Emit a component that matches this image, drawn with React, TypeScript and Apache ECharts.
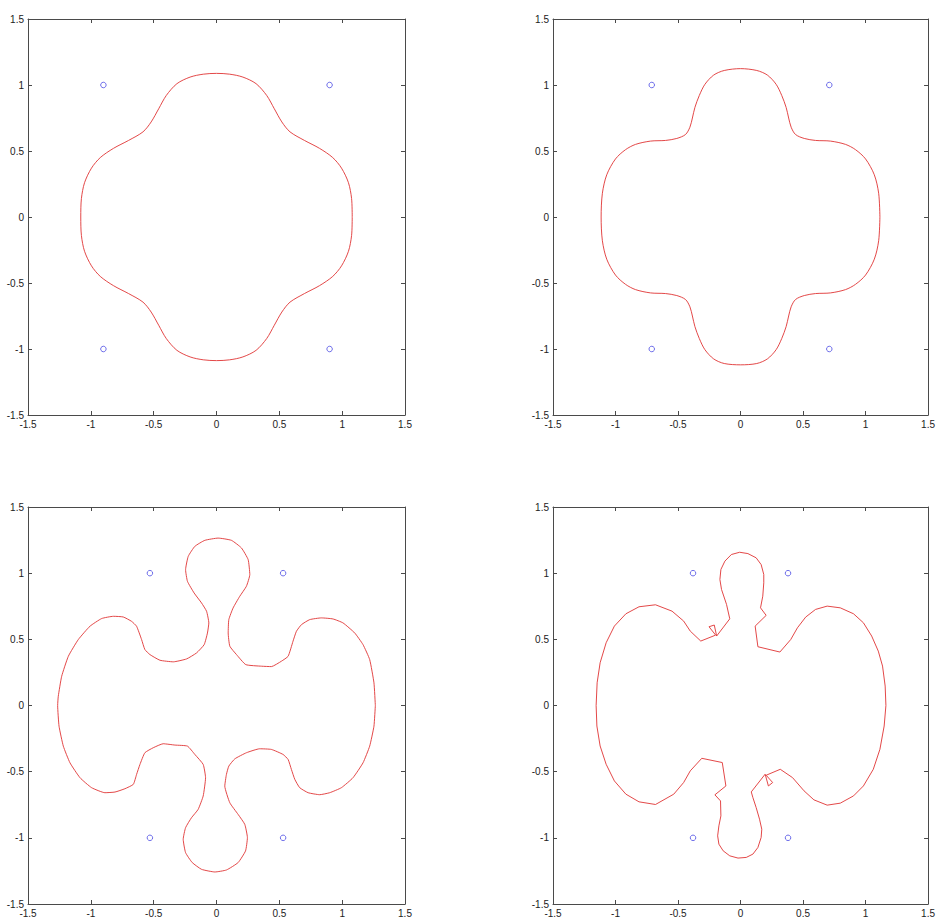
import React, { useEffect, useRef } from "react";
import * as echarts from "echarts";

// Charge sites (blue circles) for each of the four configurations
const sitesA = [[-0.9, 1], [0.9, 1], [-0.9, -1], [0.9, -1]];
const sitesB = [[-0.71, 1], [0.71, 1], [-0.71, -1], [0.71, -1]];
const sitesC = [[-0.53, 1], [0.53, 1], [-0.53, -1], [0.53, -1]];
const sitesD = [[-0.38, 1], [0.38, 1], [-0.38, -1], [0.38, -1]];

// Level curves (red), traced counter-clockwise from the right-most point
const curveA = [
  [1.08, 0], [1.075, 0.14], [1.05, 0.26], [0.995, 0.37], [0.925, 0.45], [0.82, 0.52], [0.7, 0.58],
  [0.585, 0.645], [0.52, 0.72], [0.46, 0.82], [0.4, 0.92], [0.315, 1.01], [0.21, 1.06], [0.105, 1.082],
  [0, 1.088], [-0.105, 1.082], [-0.21, 1.06], [-0.315, 1.01], [-0.4, 0.92], [-0.46, 0.82], [-0.52, 0.72],
  [-0.585, 0.645], [-0.7, 0.58], [-0.82, 0.52], [-0.925, 0.45], [-0.995, 0.37], [-1.05, 0.26],
  [-1.075, 0.14], [-1.08, 0], [-1.075, -0.14], [-1.05, -0.26], [-0.995, -0.37], [-0.925, -0.45],
  [-0.82, -0.52], [-0.7, -0.58], [-0.585, -0.645], [-0.52, -0.72], [-0.46, -0.82], [-0.4, -0.92],
  [-0.315, -1.01], [-0.21, -1.06], [-0.105, -1.082], [0, -1.088], [0.105, -1.082], [0.21, -1.06],
  [0.315, -1.01], [0.4, -0.92], [0.46, -0.82], [0.52, -0.72], [0.585, -0.645], [0.7, -0.58],
  [0.82, -0.52], [0.925, -0.45], [0.995, -0.37], [1.05, -0.26], [1.075, -0.14],
];

const curveB = [
  [1.115, 0], [1.105, 0.18], [1.07, 0.32], [1.0, 0.44], [0.92, 0.51], [0.84, 0.55], [0.72, 0.575],
  [0.6, 0.58], [0.51, 0.595], [0.44, 0.625], [0.405, 0.68], [0.385, 0.75], [0.365, 0.83], [0.33, 0.92],
  [0.285, 1.005], [0.215, 1.075], [0.13, 1.11], [0, 1.124], [-0.13, 1.11], [-0.215, 1.075],
  [-0.285, 1.005], [-0.33, 0.92], [-0.365, 0.83], [-0.385, 0.75], [-0.405, 0.68], [-0.44, 0.625],
  [-0.51, 0.595], [-0.6, 0.58], [-0.72, 0.575], [-0.84, 0.55], [-0.92, 0.51], [-1.0, 0.44],
  [-1.07, 0.32], [-1.105, 0.18], [-1.115, 0], [-1.105, -0.18], [-1.07, -0.32], [-1.0, -0.44],
  [-0.92, -0.51], [-0.84, -0.55], [-0.72, -0.575], [-0.6, -0.58], [-0.51, -0.595], [-0.44, -0.625],
  [-0.405, -0.68], [-0.385, -0.75], [-0.365, -0.83], [-0.33, -0.92], [-0.285, -1.005],
  [-0.215, -1.075], [-0.13, -1.11], [0, -1.12], [0.13, -1.11], [0.215, -1.075], [0.285, -1.005],
  [0.33, -0.92], [0.365, -0.83], [0.385, -0.75], [0.405, -0.68], [0.44, -0.625], [0.51, -0.595],
  [0.6, -0.58], [0.72, -0.575], [0.84, -0.55], [0.92, -0.51], [1.0, -0.44], [1.07, -0.32],
  [1.105, -0.18],
];

const curveC = [
  [1.264, 0], [1.253, 0.171], [1.219, 0.347], [1.166, 0.46], [1.1, 0.548], [1.007, 0.624],
  [0.927, 0.654], [0.835, 0.662], [0.742, 0.649], [0.676, 0.611], [0.636, 0.561], [0.609, 0.486],
  [0.57, 0.372], [0.517, 0.335], [0.437, 0.294], [0.358, 0.297], [0.233, 0.309], [0.159, 0.385],
  [0.106, 0.448], [0.093, 0.548], [0.098, 0.649], [0.132, 0.737], [0.185, 0.825], [0.238, 0.901],
  [0.265, 0.989], [0.252, 1.102], [0.199, 1.19], [0.119, 1.248], [0.013, 1.265], [-0.093, 1.248],
  [-0.172, 1.203], [-0.225, 1.127], [-0.246, 1.026], [-0.231, 0.938], [-0.178, 0.85],
  [-0.119, 0.775], [-0.079, 0.712], [-0.061, 0.624], [-0.072, 0.548], [-0.098, 0.46],
  [-0.159, 0.397], [-0.238, 0.352], [-0.344, 0.33], [-0.45, 0.342], [-0.53, 0.385],
  [-0.57, 0.423], [-0.596, 0.498], [-0.636, 0.599], [-0.676, 0.636], [-0.742, 0.669],
  [-0.821, 0.674], [-0.914, 0.657], [-1.007, 0.599], [-1.1, 0.498], [-1.179, 0.372],
  [-1.232, 0.221], [-1.259, 0.07], [-1.264, 0], [-1.253, -0.156], [-1.219, -0.307],
  [-1.166, -0.433], [-1.086, -0.546], [-0.994, -0.621], [-0.888, -0.659], [-0.808, -0.654],
  [-0.729, -0.629], [-0.662, -0.596], [-0.636, -0.521], [-0.609, -0.445], [-0.57, -0.357],
  [-0.503, -0.319], [-0.424, -0.289], [-0.331, -0.299], [-0.231, -0.307], [-0.172, -0.37],
  [-0.106, -0.445], [-0.087, -0.546], [-0.106, -0.684], [-0.146, -0.785], [-0.199, -0.848],
  [-0.246, -0.923], [-0.265, -1.011], [-0.246, -1.112], [-0.193, -1.187], [-0.119, -1.238],
  [-0.013, -1.258], [0.079, -1.243], [0.172, -1.187], [0.231, -1.099], [0.246, -0.999],
  [0.225, -0.898], [0.172, -0.823], [0.106, -0.735], [0.066, -0.609], [0.079, -0.521],
  [0.098, -0.458], [0.146, -0.403], [0.238, -0.357], [0.344, -0.327], [0.437, -0.332],
  [0.53, -0.37], [0.57, -0.408], [0.596, -0.483], [0.623, -0.558], [0.662, -0.621],
  [0.729, -0.659], [0.821, -0.674], [0.901, -0.659], [0.994, -0.621], [1.086, -0.546],
  [1.166, -0.433], [1.219, -0.307], [1.253, -0.156],
];

const curveD = [
  [1.163, 0], [1.157, 0.147], [1.136, 0.298], [1.102, 0.411], [1.049, 0.525], [0.983, 0.625],
  [0.904, 0.693], [0.798, 0.738], [0.693, 0.751], [0.6, 0.726], [0.521, 0.668], [0.455, 0.587],
  [0.402, 0.499], [0.315, 0.404], [0.139, 0.444], [0.117, 0.6], [0.205, 0.681], [0.16, 0.738],
  [0.178, 0.826], [0.186, 0.927], [0.186, 0.99], [0.165, 1.065], [0.125, 1.116], [0.059, 1.148],
  [-0.007, 1.158], [-0.073, 1.141], [-0.125, 1.091], [-0.157, 1.028], [-0.165, 0.952],
  [-0.152, 0.877], [-0.112, 0.764], [-0.086, 0.655], [-0.191, 0.525], [-0.21, 0.608],
  [-0.252, 0.595], [-0.199, 0.532], [-0.318, 0.487], [-0.402, 0.562], [-0.455, 0.638],
  [-0.548, 0.713], [-0.68, 0.761], [-0.812, 0.746], [-0.917, 0.693], [-1.009, 0.6],
  [-1.075, 0.474], [-1.123, 0.323], [-1.147, 0.172], [-1.155, 0], [-1.149, -0.155],
  [-1.123, -0.306], [-1.075, -0.444], [-1.009, -0.57], [-0.917, -0.67], [-0.812, -0.728],
  [-0.68, -0.748], [-0.534, -0.67], [-0.455, -0.582], [-0.402, -0.494], [-0.31, -0.399],
  [-0.146, -0.431], [-0.117, -0.608], [-0.205, -0.675], [-0.16, -0.721], [-0.157, -0.834],
  [-0.173, -0.909], [-0.183, -0.985], [-0.173, -1.048], [-0.139, -1.098], [-0.086, -1.136],
  [-0.02, -1.153], [0.046, -1.148], [0.099, -1.123], [0.139, -1.073], [0.165, -0.997],
  [0.17, -0.935], [0.152, -0.859], [0.125, -0.771], [0.099, -0.696], [0.086, -0.653],
  [0.197, -0.519], [0.223, -0.608], [0.257, -0.582], [0.205, -0.527], [0.318, -0.482],
  [0.416, -0.545], [0.508, -0.645], [0.587, -0.713], [0.693, -0.753], [0.798, -0.738],
  [0.904, -0.683], [0.983, -0.608], [1.062, -0.482], [1.115, -0.331], [1.149, -0.155],
];

// Axis range shared by every panel
const axisMin = -1.5;
const axisMax = 1.5;
const axisStep = 0.5;

const panels = [
  { left: 28, top: 19, width: 377, height: 396, sites: sitesA, curve: curveA, smooth: 0.3 },
  { left: 553, top: 19, width: 379, height: 396, sites: sitesB, curve: curveB, smooth: 0.3 },
  { left: 28, top: 507, width: 377, height: 397, sites: sitesC, curve: curveC, smooth: 0.15 },
  { left: 553, top: 507, width: 379, height: 397, sites: sitesD, curve: curveD, smooth: false },
];

const AXIS_COLOR = "#4a4a4a";
const LABEL_STYLE = {
  fontSize: 10,
  color: "#222",
  fontFamily: "'Liberation Sans', Arial, sans-serif",
};

function makeAxis(gridIndex: number, position: string, withLabels: boolean) {
  return {
    type: "value",
    gridIndex,
    position,
    min: axisMin,
    max: axisMax,
    interval: axisStep,
    axisLine: { show: true, onZero: false, lineStyle: { color: AXIS_COLOR, width: 1 } },
    axisTick: { show: true, inside: true, length: 4, lineStyle: { color: AXIS_COLOR, width: 1 } },
    axisLabel: {
      show: withLabels,
      margin: 4,
      showMinLabel: true,
      showMaxLabel: true,
      hideOverlap: false,
      ...LABEL_STYLE,
    },
    splitLine: { show: false },
  };
}

export default function App() {
  const ref = useRef<HTMLDivElement>(null);

  useEffect(() => {
    document.body.style.margin = "0";
    if (!ref.current) return;
    const chart = echarts.init(ref.current, undefined, { renderer: "svg" });

    const grid: any[] = [];
    const xAxis: any[] = [];
    const yAxis: any[] = [];
    const series: any[] = [];

    panels.forEach((p, i) => {
      grid.push({ left: p.left, top: p.top, width: p.width, height: p.height, containLabel: false });
      xAxis.push(makeAxis(i, "bottom", true));
      xAxis.push(makeAxis(i, "top", false));
      yAxis.push(makeAxis(i, "left", true));
      yAxis.push(makeAxis(i, "right", false));

      series.push({
        type: "line",
        xAxisIndex: 2 * i,
        yAxisIndex: 2 * i,
        data: [...p.curve, p.curve[0]],
        showSymbol: false,
        smooth: p.smooth,
        lineStyle: { color: "#e03333", width: 0.9 },
        silent: true,
      });
      series.push({
        type: "scatter",
        xAxisIndex: 2 * i,
        yAxisIndex: 2 * i,
        data: p.sites,
        symbol: "circle",
        symbolSize: 5.5,
        itemStyle: { color: "rgba(0,0,0,0)", borderColor: "#3535e0", borderWidth: 0.9 },
        silent: true,
      });
    });

    chart.setOption({
      animation: false,
      backgroundColor: "#ffffff",
      grid,
      xAxis,
      yAxis,
      series,
    });

    return () => chart.dispose();
  }, []);

  return <div ref={ref} style={{ width: 938, height: 920, overflow: "hidden" }} />;
}
